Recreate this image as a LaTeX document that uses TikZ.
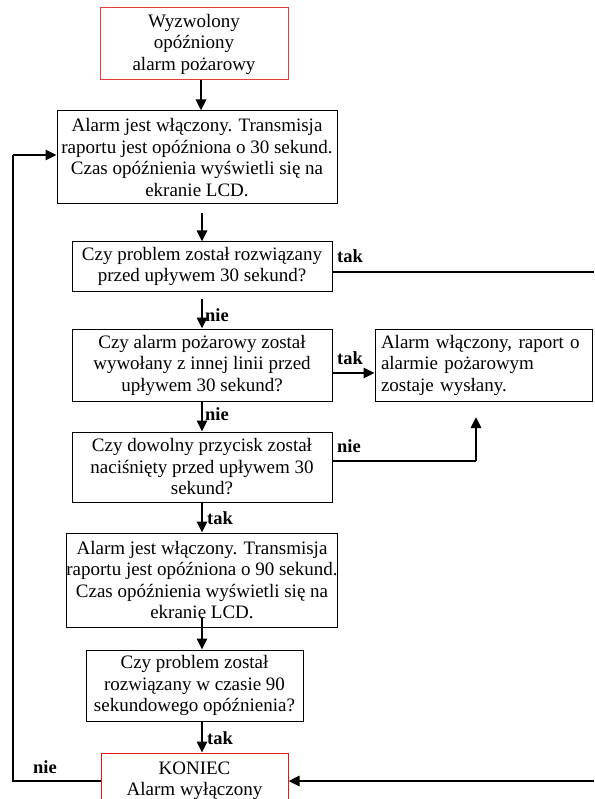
\documentclass[tikz,border=0pt]{standalone}
\usepackage{fontspec}
\setmainfont{Liberation Serif}
\usetikzlibrary{arrows.meta}
\definecolor{boxred}{RGB}{232,60,60}
\definecolor{endred}{RGB}{235,20,20}
\tikzset{
  box/.style={draw=black, line width=1pt, align=center, inner sep=0pt,
    font=\fontsize{19}{21.5}\selectfont},
  redbox/.style={box, draw=boxred},
  endbox/.style={box, draw=endred},
  arr/.style={line width=2.6pt, -{Triangle[length=11pt,width=10pt]}},
  thinline/.style={line width=1.1pt},
  lbl/.style={font=\fontsize{18.5}{20}\selectfont\bfseries, anchor=west, inner sep=0pt}
}
\begin{document}
\begin{tikzpicture}[x=1pt,y=-1pt]
\useasboundingbox (0,0) rectangle (594,799);
\clip (0,0) rectangle (594,799);

\node[redbox, minimum width=188pt, minimum height=72pt] (b1) at (194,44)
  {Wyzwolony\\opóźniony\\alarm pożarowy};
\node[box, minimum width=280pt, minimum height=93pt] (b2) at (197,157.5)
  {Alarm jest włączony. Transmisja\\raportu jest opóźniona o 30 sekund.\\Czas opóźnienia wyświetli się na\\ekranie LCD.};
\node[box, minimum width=260pt, minimum height=49pt] (q1) at (202,266.5)
  {Czy problem został rozwiązany\\przed upływem 30 sekund?};
\node[box, minimum width=260pt, minimum height=72pt] (q2) at (202,365)
  {Czy alarm pożarowy został\\wywołany z innej linii przed\\upływem 30 sekund?};
\node[box, minimum width=217pt, minimum height=72pt, align=left, text width=205pt] (r) at (483.5,365)
  {Alarm włączony, raport o\\alarmie pożarowym\\zostaje wysłany.};
\node[box, minimum width=260pt, minimum height=70pt] (q3) at (202,467)
  {Czy dowolny przycisk został\\naciśnięty przed upływem 30\\sekund?};
\node[box, minimum width=270pt, minimum height=94pt] (b4) at (202,580)
  {Alarm jest włączony. Transmisja\\raportu jest opóźniona o 90 sekund.\\Czas opóźnienia wyświetli się na\\ekranie LCD.};
\node[box, minimum width=217pt, minimum height=71pt] (q4) at (194.5,685.5)
  {Czy problem został\\rozwiązany w czasie 90\\sekundowego opóźnienia?};
\node[endbox, minimum width=187pt, minimum height=56pt] (kon) at (194.5,781)
  {KONIEC\\Alarm wyłączony};

% coordinates for connector ends
\coordinate (c1) at (201,80);
\coordinate (c2) at (202,213);
\coordinate (c3) at (202,299);
\coordinate (c4) at (202,401);
\coordinate (c5) at (202,618);
\coordinate (e1) at (594,272);
\coordinate (e2) at (594,781);
\coordinate (u1) at (476,461);
\coordinate (u2) at (476,417);
\coordinate (l1) at (13,781);
\coordinate (l2) at (13,155);

% main flow
\draw[arr] (c1) -- (c1 |- b2.north);
\draw[arr] (c2) -- (c2 |- q1.north);
\draw[arr] (c3) -- (c3 |- q2.north);
\draw[arr] (c4) -- (c4 |- q3.north);
\draw[arr] (c4 |- q3.south) -- (c4 |- b4.north);
\draw[arr] (c5) -- (c5 |- q4.north);
\draw[arr] (c5 |- q4.south) -- (c5 |- kon.north);

% branches
\draw[thinline] (q1.east |- e1) -- (e1);
\draw[arr] (q2.east |- 0,373) -- (r.west |- 0,373);
\draw[thinline] (q3.east |- u1) -- (u1);
\draw[arr] (u1) -- (u2);
\draw[arr] (e2) -- (kon.east |- e2);
\draw[thinline] (kon.west |- l1) -- (l1) -- (l2);
\draw[arr] (l2) -- (b2.west |- l2);

% labels
\node[lbl] (t1) at (337,256) {tak};
\node[lbl] (n1) at (205,315) {nie};
\node[lbl] (t2) at (337,358) {tak};
\node[lbl] (n2) at (205,414) {nie};
\node[lbl] (n3) at (337,446) {nie};
\node[lbl] (t3) at (207,518) {tak};
\node[lbl] (t4) at (207,738) {tak};
\node[lbl] (n4) at (33,767) {nie};
\end{tikzpicture}
\end{document}
